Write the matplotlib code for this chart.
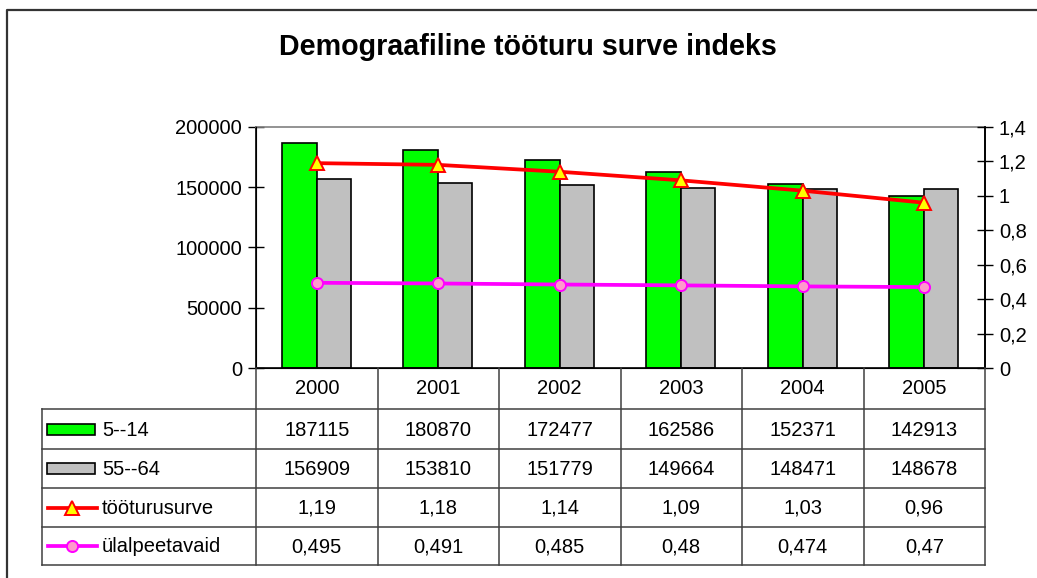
import numpy as np
import matplotlib
matplotlib.use("Agg")
import matplotlib.pyplot as plt
from matplotlib.patches import Rectangle

plt.rcParams['font.family'] = ['Liberation Sans', 'DejaVu Sans']

# ================= data =================
years = ['2000', '2001', '2002', '2003', '2004', '2005']
young = [187115, 180870, 172477, 162586, 152371, 142913]      # 5--14
old = [156909, 153810, 151779, 149664, 148471, 148678]        # 55--64
pressure = [1.19, 1.18, 1.14, 1.09, 1.03, 0.96]               # tööturusurve
dependents = [0.495, 0.491, 0.485, 0.48, 0.474, 0.47]         # ülalpeetavaid
series_names = ['5--14', '55--64', 'tööturusurve', 'ülalpeetavaid']
left_ticks = [0, 50000, 100000, 150000, 200000]
right_ticks = [0, 0.2, 0.4, 0.6, 0.8, 1.0, 1.2, 1.4]

# ================= layout (pixels) =================
W, H = 1037, 578
PL, PR, PT, PB = 256, 985, 127, 368
row_edges = [368, 409, 449, 488, 527, 565]
TL = 42
FS = 14.5
LW = 2.7

def comma(v):
    return f"{v:g}".replace('.', ',')

fig = plt.figure(figsize=(W / 100, H / 100), dpi=100)

ax = fig.add_axes([PL / W, 1 - PB / H, (PR - PL) / W, (PB - PT) / H])
x = np.arange(len(years))
ax.bar(x - 0.29, young, width=0.29, align='edge', color='#00FF00',
       edgecolor='black', linewidth=1.2, zorder=2)
ax.bar(x, old, width=0.28, align='edge', color='#C0C0C0',
       edgecolor='black', linewidth=1.2, zorder=2)
ax.set_xlim(-0.5, len(years) - 0.5)
ax.set_ylim(0, 200000)
ax.set_yticks(left_ticks)
ax.set_yticklabels([str(t) for t in left_ticks])
ax.set_xticks([])
ax.tick_params(axis='y', direction='inout', length=12, width=1, labelsize=FS, pad=4)
for s in ['left', 'bottom', 'right']:
    ax.spines[s].set_color('black')
    ax.spines[s].set_linewidth(1.2)
ax.spines['top'].set_color('#808080')
ax.spines['top'].set_linewidth(1.2)

ax2 = ax.twinx()
ax2.plot(x, pressure, color='#FF0000', linewidth=LW, marker='^', markersize=10,
         markerfacecolor='#FFFF00', markeredgecolor='#FF0000', markeredgewidth=1.4, zorder=3)
ax2.plot(x, dependents, color='#FF00FF', linewidth=LW, marker='o', markersize=8,
         markerfacecolor='#FF99CC', markeredgecolor='#FF00FF', markeredgewidth=1.4, zorder=3)
ax2.set_ylim(0, 1.4)
ax2.set_yticks(right_ticks)
ax2.set_yticklabels([comma(round(t, 1)) for t in right_ticks])
ax2.tick_params(axis='y', direction='inout', length=12, width=1, labelsize=FS, pad=4)
ax2.spines['right'].set_color('black')
ax2.spines['right'].set_linewidth(1.2)
ax2.spines['top'].set_visible(False)

# ================= overlay: title, border, data table =================
ov = fig.add_axes([0, 0, 1, 1], zorder=5)
ov.set_xlim(0, W)
ov.set_ylim(H, 0)
ov.axis('off')
ov.patch.set_alpha(0)

ov.text(528, 47, 'Demograafiline tööturu surve indeks', ha='center', va='center',
        fontsize=20.6, fontweight='bold')
ov.plot([7, 7, W + 5], [H + 5, 10, 10], color='#333333', linewidth=1.6)

col_w = (PR - PL) / len(years)
line_c = '#404040'
# horizontal lines
for yy in row_edges[1:]:
    ov.plot([TL, PR], [yy, yy], color=line_c, linewidth=1.1)
# vertical lines
ov.plot([TL, TL], [row_edges[1], row_edges[-1]], color=line_c, linewidth=1.1)
for j in range(len(years) + 1):
    xx = PL + j * col_w
    ov.plot([xx, xx], [PB, row_edges[-1]], color=line_c, linewidth=1.1)

# header
for j, yr in enumerate(years):
    ov.text(PL + (j + 0.5) * col_w, (row_edges[0] + row_edges[1]) / 2, yr,
            ha='center', va='center', fontsize=FS)

rows = [[str(v) for v in young], [str(v) for v in old],
        [comma(v) for v in pressure], [comma(v) for v in dependents]]
for r, vals in enumerate(rows):
    yc = (row_edges[r + 1] + row_edges[r + 2]) / 2
    for j, v in enumerate(vals):
        ov.text(PL + (j + 0.5) * col_w, yc + 1, v, ha='center', va='center', fontsize=FS)
    ov.text(102, yc + 1, series_names[r], ha='left', va='center', fontsize=FS)

# legend keys
yc = [(row_edges[r + 1] + row_edges[r + 2]) / 2 for r in range(4)]
ov.add_patch(Rectangle((47, yc[0] - 5.5), 48, 11, facecolor='#00FF00', edgecolor='black', linewidth=1.2))
ov.add_patch(Rectangle((47, yc[1] - 5.5), 48, 11, facecolor='#C0C0C0', edgecolor='black', linewidth=1.2))
ov.plot([48, 97], [yc[2], yc[2]], color='#FF0000', linewidth=LW)
ov.plot([72], [yc[2]], marker='^', markersize=10, markerfacecolor='#FFFF00',
        markeredgecolor='#FF0000', markeredgewidth=1.4, linestyle='none')
ov.plot([48, 97], [yc[3], yc[3]], color='#FF00FF', linewidth=LW)
ov.plot([72], [yc[3]], marker='o', markersize=8, markerfacecolor='#FF99CC',
        markeredgecolor='#FF00FF', markeredgewidth=1.4, linestyle='none')

fig.savefig('out.png', dpi=100)
